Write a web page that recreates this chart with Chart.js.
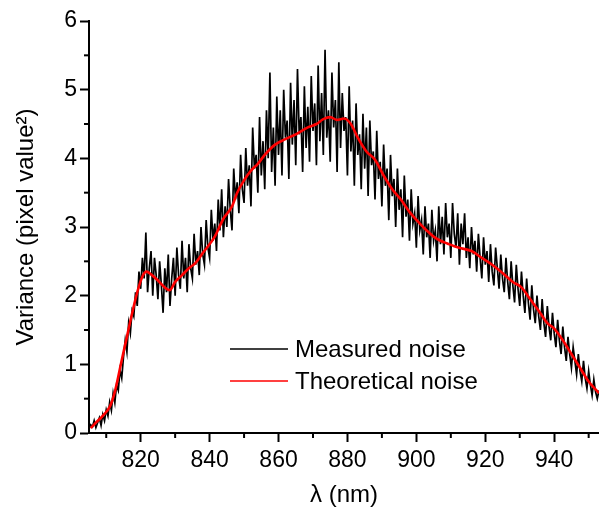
<!DOCTYPE html>
<html>
<head>
<meta charset="utf-8">
<script src="https://cdn.jsdelivr.net/npm/chart.js@4.4.0/dist/chart.umd.min.js"></script>
<style>
html, body { margin: 0; padding: 0; background: #fff; }
</style>
</head>
<body>
<canvas id="noiseChart" width="599" height="516"></canvas>
<script>
// Measured noise, sampled every 0.5 nm starting at 805 nm
const measuredStart = 805;
const measuredStep = 0.5;
const measuredValues = [
    0.06, 0.12, 0.09, 0.18, 0.08, 0.15, 0.22, 0.11, 0.27, 0.18,
    0.34, 0.25, 0.45, 0.33, 0.58, 0.44, 0.70, 0.62, 0.92, 0.80,
    1.10, 1.35, 1.18, 1.60, 1.45, 1.78, 1.70, 2.05, 1.85, 2.35,
    2.10, 2.55, 2.25, 2.92, 2.05, 2.40, 2.65, 2.00, 2.55, 2.30,
    1.95, 2.50, 2.15, 1.75, 2.40, 2.05, 2.60, 1.85, 2.25, 2.55,
    2.00, 2.70, 2.30, 2.10, 2.80, 2.25, 2.55, 2.05, 2.75, 2.40,
    2.25, 2.90, 2.45, 2.65, 2.30, 3.00, 2.60, 2.45, 3.10, 2.70,
    2.55, 3.25, 2.80, 3.05, 2.65, 3.40, 2.95, 3.55, 2.85, 3.30,
    3.00, 3.70, 3.25, 2.95, 3.85, 3.40, 3.65, 3.20, 4.05, 3.55,
    3.35, 4.15, 3.60, 3.90, 3.30, 4.45, 3.85, 4.05, 3.50, 4.60,
    3.75, 4.25, 3.55, 4.70, 4.00, 5.25, 3.80, 4.45, 3.60, 4.90,
    4.05, 4.70, 3.75, 5.00, 4.30, 4.55, 3.70, 5.10, 4.20, 4.85,
    3.90, 5.30, 4.35, 4.60, 3.80, 5.05, 4.15, 4.75, 3.95, 5.20,
    4.40, 4.80, 3.90, 5.35, 4.25, 4.95, 4.05, 5.58, 4.30, 4.70,
    3.95, 5.25, 4.45, 4.85, 3.80, 5.40, 4.15, 4.95, 4.40, 4.60,
    3.75, 5.05, 4.10, 4.55, 3.60, 4.80, 4.05, 4.35, 3.55, 4.65,
    3.85, 4.45, 3.45, 4.55, 3.90, 4.10, 3.40, 4.40, 3.70, 3.95,
    3.30, 4.20, 3.60, 3.85, 3.10, 4.05, 3.45, 3.70, 3.00, 3.85,
    3.25, 3.55, 2.85, 3.75, 3.15, 3.40, 2.80, 3.55, 3.05, 3.20,
    2.70, 3.45, 2.95, 3.10, 2.60, 3.30, 2.85, 3.05, 2.55, 3.25,
    2.80, 2.95, 2.50, 3.30, 2.75, 3.15, 2.60, 3.35, 2.85, 3.05,
    2.55, 3.35, 2.90, 2.70, 3.20, 2.45, 3.05, 2.75, 3.20, 2.55,
    2.85, 2.40, 3.00, 2.60, 2.80, 2.35, 2.90, 2.55, 2.25, 2.85,
    2.45, 2.65, 2.20, 2.75, 2.35, 2.15, 2.70, 2.40, 2.10, 2.60,
    2.25, 2.05, 2.55, 2.20, 1.95, 2.50, 2.15, 1.90, 2.45, 2.10,
    1.85, 2.35, 2.00, 1.75, 2.25, 1.90, 1.65, 2.15, 1.80, 1.60,
    2.00, 1.70, 1.50, 1.95, 1.60, 1.40, 1.85, 1.55, 1.35, 1.75,
    1.45, 1.25, 1.65, 1.35, 1.15, 1.55, 1.25, 1.05, 1.40, 1.15,
    0.95, 1.25, 1.05, 0.85, 1.15, 0.90, 0.75, 1.05, 0.80, 0.65,
    0.90, 0.70, 0.55, 0.78, 0.60, 0.50, 0.62
];

// Theoretical noise curve (smooth)
const theoryWavelengths = [
    805.5, 807, 809, 811, 812.5, 814.5, 816, 817.5, 819, 820.5,
    821.7, 823, 825, 827, 828.4, 830, 832, 834, 836, 838,
    841.5, 844, 846.5, 848, 850, 852, 854, 856, 859, 862,
    865, 868.5, 871, 873, 875, 877, 879, 881, 883, 885.5,
    888, 890.5, 893, 895.5, 898, 901, 903, 905, 907, 909,
    911, 913, 916, 919, 922, 925, 928, 930.5, 933, 935.5,
    938, 940, 942.5, 945, 947.5, 950, 953
];
const theoryValues = [
    0.07, 0.15, 0.25, 0.38, 0.60, 1.06, 1.40, 1.74, 2.05, 2.28,
    2.35, 2.31, 2.22, 2.12, 2.08, 2.20, 2.30, 2.40, 2.48, 2.62,
    2.86, 3.12, 3.30, 3.50, 3.68, 3.82, 3.92, 4.05, 4.20, 4.28,
    4.35, 4.45, 4.50, 4.57, 4.60, 4.56, 4.58, 4.50, 4.30, 4.10,
    3.98, 3.75, 3.55, 3.40, 3.22, 3.05, 2.95, 2.86, 2.80, 2.76,
    2.72, 2.69, 2.65, 2.55, 2.45, 2.33, 2.20, 2.12, 1.95, 1.78,
    1.60, 1.52, 1.35, 1.15, 0.95, 0.75, 0.58
];

const xTickLabels = [820, 840, 860, 880, 900, 920, 940];
const yTickLabels = [0, 1, 2, 3, 4, 5, 6];

const fontFamily = '"Liberation Sans", Arial, Helvetica, sans-serif';
Chart.defaults.font.family = fontFamily;
Chart.defaults.color = '#000';

const measuredPoints = measuredValues.map((v, i) => ({ x: measuredStart + i * measuredStep, y: v }));
const theoryPoints = theoryValues.map((v, i) => ({ x: theoryWavelengths[i], y: v }));

const isMajor = (scale, value) =>
    scale === 'x' ? xTickLabels.includes(value) : yTickLabels.includes(value);

// Short minor ticks drawn on top of the library's tick positions
const minorTicks = {
    id: 'minorTicks',
    afterDraw(chart) {
        const ctx = chart.ctx;
        ctx.save();
        ctx.strokeStyle = '#000';
        ctx.lineWidth = 2;
        const xs = chart.scales.x, ys = chart.scales.y;
        xs.ticks.forEach(t => {
            if (isMajor('x', t.value)) return;
            const px = xs.getPixelForValue(t.value);
            ctx.beginPath();
            ctx.moveTo(px, chart.chartArea.bottom);
            ctx.lineTo(px, chart.chartArea.bottom + 5);
            ctx.stroke();
        });
        ys.ticks.forEach(t => {
            if (isMajor('y', t.value)) return;
            const py = ys.getPixelForValue(t.value);
            ctx.beginPath();
            ctx.moveTo(chart.chartArea.left, py);
            ctx.lineTo(chart.chartArea.left - 5, py);
            ctx.stroke();
        });
        ctx.restore();
    }
};

// Legend inside the plot
const innerLegend = {
    id: 'innerLegend',
    afterDraw(chart) {
        const ctx = chart.ctx;
        ctx.save();
        ctx.font = '24px ' + fontFamily;
        ctx.textBaseline = 'alphabetic';
        ctx.fillStyle = '#000';
        chart.data.datasets.forEach((ds, i) => {
            const y = 349 + i * 32;
            ctx.strokeStyle = ds.borderColor;
            ctx.lineWidth = 1.5;
            ctx.beginPath();
            ctx.moveTo(230, y);
            ctx.lineTo(288, y);
            ctx.stroke();
            ctx.fillText(ds.label, 295, y + 8);
        });
        ctx.restore();
    }
};

const ctxNoise = document.getElementById('noiseChart').getContext('2d');
const noiseChart = new Chart(ctxNoise, {
    type: 'line',
    data: {
        datasets: [{
            label: 'Measured noise',
            data: measuredPoints,
            borderColor: '#000000',
            borderWidth: 1.7,
            pointRadius: 0,
            tension: 0,
            order: 2
        }, {
            label: 'Theoretical noise',
            data: theoryPoints,
            borderColor: '#ff0000',
            borderWidth: 2.6,
            pointRadius: 0,
            cubicInterpolationMode: 'monotone',
            order: 1
        }]
    },
    options: {
        responsive: false,
        animation: false,
        layout: { padding: { top: 21, right: 0, left: 0, bottom: 0 } },
        plugins: {
            legend: { display: false },
            tooltip: { enabled: false }
        },
        scales: {
            x: {
                type: 'linear',
                min: 805,
                max: 953,
                border: { color: '#000', width: 2 },
                grid: {
                    drawOnChartArea: false,
                    tickLength: 9,
                    tickWidth: 2,
                    tickColor: c => isMajor('x', c.tick.value) ? '#000' : 'rgba(0,0,0,0)'
                },
                ticks: {
                    stepSize: 10,
                    includeBounds: false,
                    maxRotation: 0,
                    autoSkip: false,
                    padding: 5,
                    font: { size: 23 },
                    callback: v => isMajor('x', v) ? String(v) : ''
                },
                title: {
                    display: true,
                    text: 'λ (nm)',
                    font: { size: 24 },
                    padding: { top: 0, bottom: 6 }
                },
                afterFit: s => { s.height = 83; }
            },
            y: {
                min: 0,
                max: 6,
                border: { color: '#000', width: 2 },
                grid: {
                    drawOnChartArea: false,
                    tickLength: 9,
                    tickWidth: 2,
                    tickColor: c => isMajor('y', c.tick.value) ? '#000' : 'rgba(0,0,0,0)'
                },
                ticks: {
                    stepSize: 0.5,
                    padding: 3,
                    font: { size: 23 },
                    callback: v => isMajor('y', v) ? String(v) : ''
                },
                title: {
                    display: true,
                    text: 'Variance (pixel value²)',
                    font: { size: 24 },
                    padding: { top: 12, bottom: 0 }
                },
                afterFit: s => { s.width = 89; }
            }
        }
    },
    plugins: [minorTicks, innerLegend]
});
</script>
</body>
</html>
